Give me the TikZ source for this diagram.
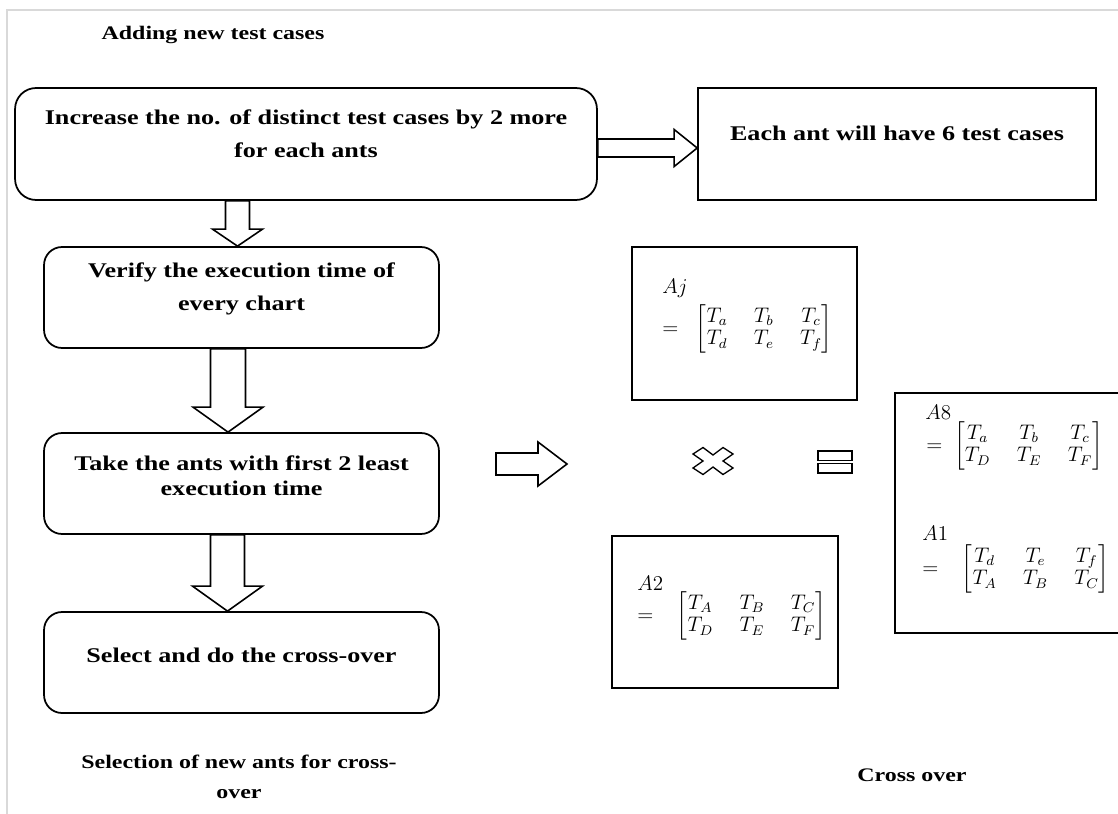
\documentclass[tikz,border=0pt]{standalone}
\usepackage{amsmath,amsfonts,amssymb}
\usepackage{fontspec}
\setmainfont[FakeStretch=1.25]{Liberation Serif}
\usepackage{tikz}
\usetikzlibrary{shapes,arrows,positioning,calc}
\usepackage{xcolor}

% hollow block arrow pointing down: from node, to node, x shift, half shaft, half head, head length
\newcommand{\fatdown}[6]{%
  \coordinate (fs) at ($(#2.north |- #1.south)+(#3,0)$);
  \coordinate (ft) at ($(#2.north)+(#3,0)$);
  \draw[fat] ($(fs)+(-#4,0)$) -- ($(ft)+(-#4,-#6)$) -- ($(ft)+(-#5,-#6)$) -- (ft)
    -- ($(ft)+(#5,-#6)$) -- ($(ft)+(#4,-#6)$) -- ($(fs)+(#4,0)$) -- cycle;
}
% hollow block arrow pointing right: start, tip anchor, half shaft, half head, head length
\newcommand{\fatright}[5]{%
  \coordinate (fs) at #1;
  \coordinate (ft) at (#2 |- fs);
  \draw[fat] ($(fs)+(0,-#3)$) -- ($(ft)+(-#5,-#3)$) -- ($(ft)+(-#5,-#4)$) -- (ft)
    -- ($(ft)+(-#5,#4)$) -- ($(ft)+(-#5,#3)$) -- ($(fs)+(0,#3)$) -- cycle;
}

\begin{document}
\begin{tikzpicture}[x=0.02cm, y=-0.02cm,
    flowbox/.style={rectangle, draw, line width=1pt, rounded corners=0.36cm, minimum width=7.9cm, minimum height=2.02cm},
    plainbox/.style={rectangle, draw, line width=1pt},
    txt/.style={align=center, font=\bfseries\fontsize{11.9}{18.7}\selectfont},
    caption/.style={align=center, font=\bfseries\fontsize{10.9}{17}\selectfont},
    mlabel/.style={anchor=west, inner sep=0pt, font=\fontsize{11.5}{13}\selectfont},
    meq/.style={anchor=west, inner sep=0pt, font=\fontsize{11.5}{13}\selectfont},
    fat/.style={draw, fill=white, line width=0.9pt, line join=miter},
    symb/.style={draw, line width=0.75pt}
]
\useasboundingbox (0,0) rectangle (1118,814);

% page edge
\draw[gray!30, line width=1.2pt] (7,814) -- (7,10) -- (1118,10);

% left column
\node[caption] (cap1) at (213,35) {Adding new test cases};
\node[flowbox, rounded corners=0.42cm, minimum width=11.64cm, minimum height=2.24cm] (b1) at (306,144) {};
\node[txt] (t1) at ($(b1)+(0,-10.5)$) {Increase the no. of distinct test cases by 2 more\\for each ants};
\node[plainbox, minimum width=7.96cm, minimum height=2.24cm] (bE) at (897,144) {};
\node[txt] (tE) at ($(bE)+(0,-11)$) {Each ant will have 6 test cases};

\node[flowbox] (b2) at (241.5,297.5) {};
\node[txt] (t2) at ($(b2)+(0,-9)$) {Verify the execution time of\\every chart};
\node[flowbox] (b3) at (241.5,483.5) {};
\node[txt, font=\bfseries\fontsize{11.9}{14.2}\selectfont] (t3) at ($(b3)+(0,-8)$) {Take the ants with first 2 least\\execution time};
\node[flowbox] (b4) at (241.5,662.5) {};
\node[txt] (t4) at ($(b4)+(0,-7.5)$) {Select and do the cross-over};
\node[caption] (cap2) at (239,777) {Selection of new ants for cross-\\over};

% block arrows
\fatright{($(b1.east)+(0,4)$)}{bE.west}{9}{18.5}{23}
\fatdown{b1}{b2}{-4}{12}{25}{17}
\fatdown{b2}{b3}{-13.5}{17.5}{35}{25}
\fatdown{b3}{b4}{-14}{17}{35}{25}

% cross over part
\node[plainbox, minimum width=4.5cm, minimum height=3.06cm] (bj) at (744.5,323.5) {};
\node[mlabel] (lj) at (662,288) {$Aj$};
\node[meq] (ej) at (662,329) {$=\;\;{\arraycolsep=7.5pt\begin{bmatrix}T_a & T_b & T_c\\ T_d & T_e & T_f\end{bmatrix}}$};

\node[plainbox, minimum width=4.7cm, minimum height=4.8cm] (b8) at (1012.5,513) {};
\node[mlabel] (l8) at (925,412) {$A8$};
\node[meq] (e8) at (926,446) {$=\;{\arraycolsep=7.5pt\begin{bmatrix}T_a & T_b & T_c\\ T_D & T_E & T_F\end{bmatrix}}$};
\node[mlabel] (l1) at (922,533) {$A1$};
\node[meq] (e1) at (922,569) {$=\;\;\;{\arraycolsep=7.5pt\begin{bmatrix}T_d & T_e & T_f\\ T_A & T_B & T_C\end{bmatrix}}$};

\node[plainbox, minimum width=4.52cm, minimum height=3.04cm] (bA2) at (725,612) {};
\node[mlabel] (l2) at (637,583) {$A2$};
\node[meq] (e2) at (637,616) {$=\;\;\;{\arraycolsep=7.5pt\begin{bmatrix}T_A & T_B & T_C\\ T_D & T_E & T_F\end{bmatrix}}$};

% times and equals signs
\node[minimum width=0.8cm, minimum height=0.54cm, inner sep=0pt] (xs) at (713,461) {};
\draw[symb, shift={(xs.center)}] (0,-6) -- (-10,-13.5) -- (-20,-7) -- (-10,0) -- (-20,7) -- (-10,13.5)
  -- (0,6) -- (10,13.5) -- (20,7) -- (10,0) -- (20,-7) -- (10,-13.5) -- cycle;
\node[minimum width=0.68cm, minimum height=0.44cm, inner sep=0pt] (es) at (835,462) {};
\draw[symb, shift={(es.center)}] (-17,-11) rectangle (17,-1.5) (-17,1.5) rectangle (17,11);

\coordinate (ms) at (496,464);
\fatright{(ms)}{$(ms)+(71,0)$}{11}{22}{29}

\node[caption] (cap3) at (912,775) {Cross over};

\end{tikzpicture}
\end{document}
